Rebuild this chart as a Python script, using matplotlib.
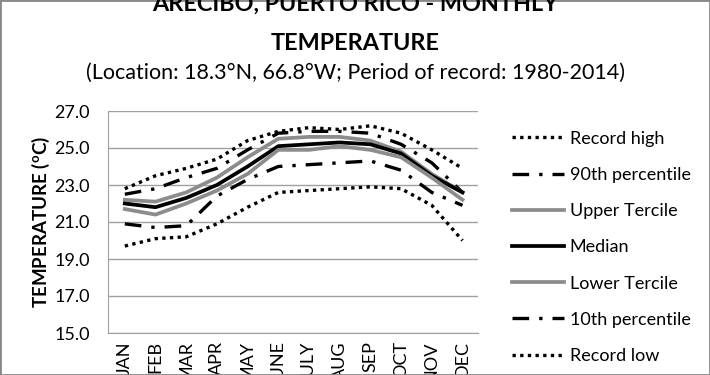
import numpy as np
import matplotlib.pyplot as plt
from matplotlib.patches import Rectangle

plt.rcParams['font.family'] = ['Lato', 'DejaVu Sans']

months = ['JAN', 'FEB', 'MAR', 'APR', 'MAY', 'JUNE', 'JULY', 'AUG', 'SEP', 'OCT', 'NOV', 'DEC']
record_high = [22.8, 23.5, 23.9, 24.4, 25.4, 25.9, 26.1, 26.0, 26.2, 25.8, 24.9, 23.9]
p90 = [22.5, 22.8, 23.4, 23.9, 24.9, 25.8, 25.9, 25.9, 25.8, 25.2, 24.2, 22.6]
upper_tercile = [22.2, 22.1, 22.6, 23.4, 24.5, 25.5, 25.6, 25.6, 25.4, 24.8, 23.6, 22.6]
median = [22.0, 21.8, 22.3, 23.0, 24.0, 25.1, 25.2, 25.3, 25.2, 24.7, 23.5, 22.6]
lower_tercile = [21.7, 21.4, 22.0, 22.7, 23.6, 24.9, 24.9, 25.1, 24.9, 24.5, 23.4, 22.2]
p10 = [20.9, 20.7, 20.8, 22.4, 23.3, 24.0, 24.1, 24.2, 24.3, 23.8, 22.6, 21.9]
record_low = [19.7, 20.1, 20.2, 20.9, 21.8, 22.6, 22.7, 22.8, 22.9, 22.8, 21.9, 20.0]

fig = plt.figure(figsize=(7.1, 3.75), dpi=100)
ax = fig.add_axes([0.152, 0.112, 0.521, 0.592])

x = np.arange(len(months))
dot = (0, (1, 1.3))
dashdot = (0, (5, 3, 1, 3))
gray = '#8c8c8c'
ax.plot(x, record_high, color='black', lw=2.4, ls=dot, label='Record high')
ax.plot(x, p90, color='black', lw=2.4, ls=dashdot, label='90th percentile')
ax.plot(x, upper_tercile, color=gray, lw=2.7, label='Upper Tercile')
ax.plot(x, median, color='black', lw=2.7, label='Median')
ax.plot(x, lower_tercile, color=gray, lw=2.7, label='Lower Tercile')
ax.plot(x, p10, color='black', lw=2.4, ls=dashdot, label='10th percentile')
ax.plot(x, record_low, color='black', lw=2.4, ls=dot, label='Record low')

ax.set_xlim(-0.55, 11.5)
ax.set_ylim(15, 27)
ax.set_yticks(np.arange(15, 27.1, 2))
ax.set_yticklabels(['%.1f' % v for v in np.arange(15, 27.1, 2)], fontsize=13)
ax.set_xticks(x)
ax.set_xticklabels(months, rotation=90, fontsize=13)
ax.tick_params(axis='y', length=0, pad=13)
ax.tick_params(axis='x', length=0, pad=6)
ax.yaxis.grid(True, color='#a0a0a0', lw=1)
ax.set_axisbelow(True)
for s in ['top', 'right']:
    ax.spines[s].set_visible(False)
for s in ['left', 'bottom']:
    ax.spines[s].set_color('#a0a0a0')

ax.set_ylabel(r'TEMPERATURE ($\mathregular{^o}$C)', fontsize=13.5, fontweight='bold', labelpad=2)

fig.text(0.5, 0.99, 'ARECIBO, PUERTO RICO - MONTHLY', ha='center', va='center',
         fontsize=16.8, fontweight='bold')
fig.text(0.5, 0.885, 'TEMPERATURE', ha='center', va='center', fontsize=16.8, fontweight='bold')
fig.text(0.5, 0.805, '(Location: 18.3\u00b0N, 66.8\u00b0W; Period of record: 1980-2014)',
         ha='center', va='center', fontsize=15.5)

fig.legend(loc='upper left', bbox_to_anchor=(0.698, 0.695), frameon=False, fontsize=13,
           handlelength=2.9, handletextpad=0.3, labelspacing=1.12)

fig.patches.append(Rectangle((0, 0), 1, 1, transform=fig.transFigure, fill=False,
                             edgecolor='#888888', lw=2))

fig.savefig('out.png', dpi=100)
